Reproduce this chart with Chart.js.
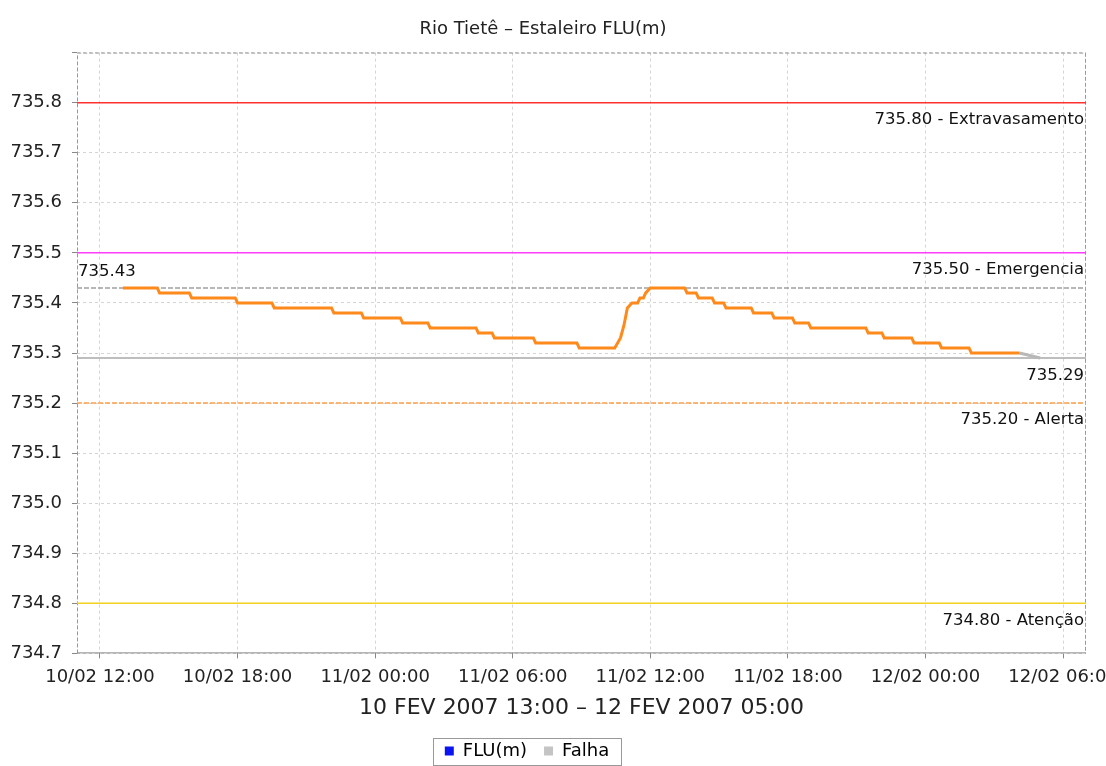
<!DOCTYPE html>
<html>
<head>
<meta charset="utf-8">
<script src="https://cdn.jsdelivr.net/npm/chart.js@4.4.0/dist/chart.umd.min.js"></script>
<style>
html, body { margin:0; padding:0; background:#fff; }
</style>
</head>
<body>
<canvas id="myChart" width="1106" height="766"></canvas>
<script>
// hours counted from 10/02/2007 00:00
const fluHours = [13.0,14.5,14.6,15.9,16.0,17.9,18.0,19.5,19.6,22.1,22.2,23.4,23.5,25.1,25.2,26.3,26.4,28.4,28.5,29.1,29.2,30.9,31.0,32.8,32.9,34.45,34.7,34.85,35.0,35.2,35.45,35.55,35.7,35.8,36.0,37.5,37.6,38.0,38.1,38.7,38.8,39.2,39.3,40.4,40.5,41.3,41.4,42.2,42.3,42.9,43.0,45.4,45.5,46.1,46.2,47.4,47.5,48.6,48.7,49.9,50.0,52.1];
const fluValues = [735.43,735.43,735.42,735.42,735.41,735.41,735.40,735.40,735.39,735.39,735.38,735.38,735.37,735.37,735.36,735.36,735.35,735.35,735.34,735.34,735.33,735.33,735.32,735.32,735.31,735.31,735.33,735.355,735.39,735.40,735.40,735.41,735.41,735.42,735.43,735.43,735.42,735.42,735.41,735.41,735.40,735.40,735.39,735.39,735.38,735.38,735.37,735.37,735.36,735.36,735.35,735.35,735.34,735.34,735.33,735.33,735.32,735.32,735.31,735.31,735.30,735.30];
const falhaHours = [52.1, 53.0];
const falhaValues = [735.30, 735.29];

const thresholdValues = [735.80, 735.50, 735.20, 734.80];
const thresholdNames = ['Extravasamento', 'Emergencia', 'Alerta', 'Atenção'];
const maxLevel = 735.43;   // label on the left
const lastLevel = 735.29;  // label on the right

const xTickHours = [12, 18, 24, 30, 36, 42, 48, 54];
const xTickLabels = ['10/02 12:00','10/02 18:00','11/02 00:00','11/02 06:00','11/02 12:00','11/02 18:00','12/02 00:00','12/02 06:00'];
const yTicks = [734.7,734.8,734.9,735.0,735.1,735.2,735.3,735.4,735.5,735.6,735.7,735.8,735.9];

const xMin = 11, xMax = 55;
const FONT = "'DejaVu Sans', sans-serif";

function pts(xs, ys) { return xs.map((x, i) => ({x: x, y: ys[i]})); }
function hline(v) { return [{x: xMin, y: v}, {x: xMax, y: v}]; }

const thresholdStyles = [
    {color:'#ff3030', dash:[]},
    {color:'#ff3cff', dash:[]},
    {color:'#ffa048', dash:[5,2]},
    {color:'#f2d21e', dash:[]}
];

const datasets = [
    { label:'FLU(m)', data: pts(fluHours, fluValues), borderColor:'#ff8a1c', borderWidth:3, pointRadius:0, tension:0, order:0 },
    { label:'Falha', data: pts(falhaHours, falhaValues), borderColor:'#b8b8b8', borderWidth:3, pointRadius:0, order:0 },
    { label:'max', data: hline(maxLevel), borderColor:'#a0a0a0', borderDash:[5,2], borderWidth:1.5, pointRadius:0, order:2 },
    { label:'last', data: hline(lastLevel), borderColor:'#a8a8a8', borderWidth:1.5, pointRadius:0, order:2 }
];
thresholdValues.forEach((v, i) => {
    datasets.push({ label: thresholdNames[i], data: hline(v), borderColor: thresholdStyles[i].color,
        borderDash: thresholdStyles[i].dash, borderWidth:1.5, pointRadius:0, order:2 });
});

// dashed frame round the plot
const framePlugin = {
    id:'frame',
    afterLayout(chart) {
        // legend sits a bit left of centre in the original
        if (chart.legend) { chart.legend.left -= 16; chart.legend.right -= 16; }
    },
    beforeDatasetsDraw(chart) {
        const a = chart.chartArea, c = chart.ctx;
        c.save();
        c.strokeStyle = '#999';
        c.lineWidth = 1;
        c.setLineDash([4,2]);
        c.beginPath();
        c.moveTo(a.left + 0.5, a.bottom); c.lineTo(a.left + 0.5, a.top + 0.5);
        c.lineTo(a.right - 0.5, a.top + 0.5); c.lineTo(a.right - 0.5, a.bottom);
        c.stroke();
        c.setLineDash([]);
        c.strokeStyle = '#888';
        c.beginPath();
        c.moveTo(a.left, a.bottom - 0.5); c.lineTo(a.right, a.bottom - 0.5);
        c.stroke();
        c.restore();
    }
};

// labels on the level lines
const levelLabels = {
    id:'levelLabels',
    afterDatasetsDraw(chart) {
        const a = chart.chartArea, c = chart.ctx, y = chart.scales.y;
        c.save();
        c.font = '16.5px ' + FONT;
        c.fillStyle = '#111';
        c.textBaseline = 'middle';
        c.textAlign = 'right';
        thresholdValues.forEach((v, i) => {
            c.fillText(v.toFixed(2) + ' - ' + thresholdNames[i], a.right - 2, y.getPixelForValue(v) + 17);
        });
        c.fillText(lastLevel.toFixed(2), a.right - 2, y.getPixelForValue(lastLevel) + 18);
        c.textAlign = 'left';
        c.fillText(maxLevel.toFixed(2), a.left + 1, y.getPixelForValue(maxLevel) - 16);
        c.restore();
    },
    afterDraw(chart) {
        // box round the legend
        const lg = chart.legend;
        if (!lg || !lg.legendHitBoxes.length) return;
        const hb = lg.legendHitBoxes;
        const x0 = hb[0].left - 12, x1 = hb[hb.length-1].left + hb[hb.length-1].width + 12;
        const yc = hb[0].top + hb[0].height / 2;
        const c = chart.ctx;
        c.save();
        c.strokeStyle = '#999';
        c.lineWidth = 1;
        c.strokeRect(Math.round(x0) + 0.5, Math.round(yc - 13.5) + 0.5, Math.round(x1 - x0), 27);
        c.restore();
    }
};

const ctx = document.getElementById('myChart').getContext('2d');
const myChart = new Chart(ctx, {
    type:'line',
    data:{ datasets: datasets },
    plugins:[framePlugin, levelLabels],
    options:{
        responsive:false,
        animation:false,
        events:[],
        layout:{ padding:{ left:0, right:20, top:0, bottom:-4 } },
        plugins:{
            title:{
                display:true,
                text:'Rio Tietê – Estaleiro FLU(m)',
                color:'#222',
                font:{ family:FONT, size:18, weight:'normal' },
                padding:{ top:19, bottom:12 }
            },
            tooltip:{ enabled:false },
            legend:{
                position:'bottom',
                labels:{
                    color:'#222',
                    font:{ family:FONT, size:18 },
                    boxWidth:9, boxHeight:9, padding:17,
                    generateLabels(){
                        return [
                            { text:'FLU(m)', fillStyle:'#0a14f0', strokeStyle:'#0a14f0', lineWidth:0, datasetIndex:0 },
                            { text:'Falha', fillStyle:'#c4c4c4', strokeStyle:'#c4c4c4', lineWidth:0, datasetIndex:1 }
                        ];
                    }
                }
            }
        },
        scales:{
            x:{
                type:'linear',
                min:xMin, max:xMax,
                afterBuildTicks(scale){ scale.ticks = xTickHours.map(v => ({value:v})); },
                afterFit(scale){ scale.paddingLeft = 0; scale.paddingRight = 0; },
                ticks:{
                    autoSkip:false, maxRotation:0,
                    color:'#222', padding:8,
                    font:{ family:FONT, size:18 },
                    callback(v){ const i = xTickHours.indexOf(v); return i >= 0 ? xTickLabels[i] : ''; }
                },
                grid:{ color:'#d4d4d4', borderDash:[3,3], tickColor:'#888', tickLength:5, tickBorderDash:[] },
                border:{ display:false, dash:[3,3] },
                title:{
                    display:true,
                    text:'10 FEV 2007 13:00 – 12 FEV 2007 05:00',
                    color:'#222',
                    font:{ family:FONT, size:22, lineHeight:1.0 },
                    padding:{ top:1, bottom:6 }
                }
            },
            y:{
                min:734.7, max:735.9,
                afterBuildTicks(scale){ scale.ticks = yTicks.map(v => ({value:v})); },
                afterFit(scale){ scale.width = 77; },
                ticks:{
                    color:'#222', padding:10,
                    font:{ family:FONT, size:18 },
                    callback(v){ return v > 735.85 ? '' : v.toFixed(1); }
                },
                grid:{ color:'#d4d4d4', tickColor:'#888', tickLength:5, tickBorderDash:[] },
                border:{ display:false, dash:[3,3] }
            }
        }
    }
});
</script>
</body>
</html>
